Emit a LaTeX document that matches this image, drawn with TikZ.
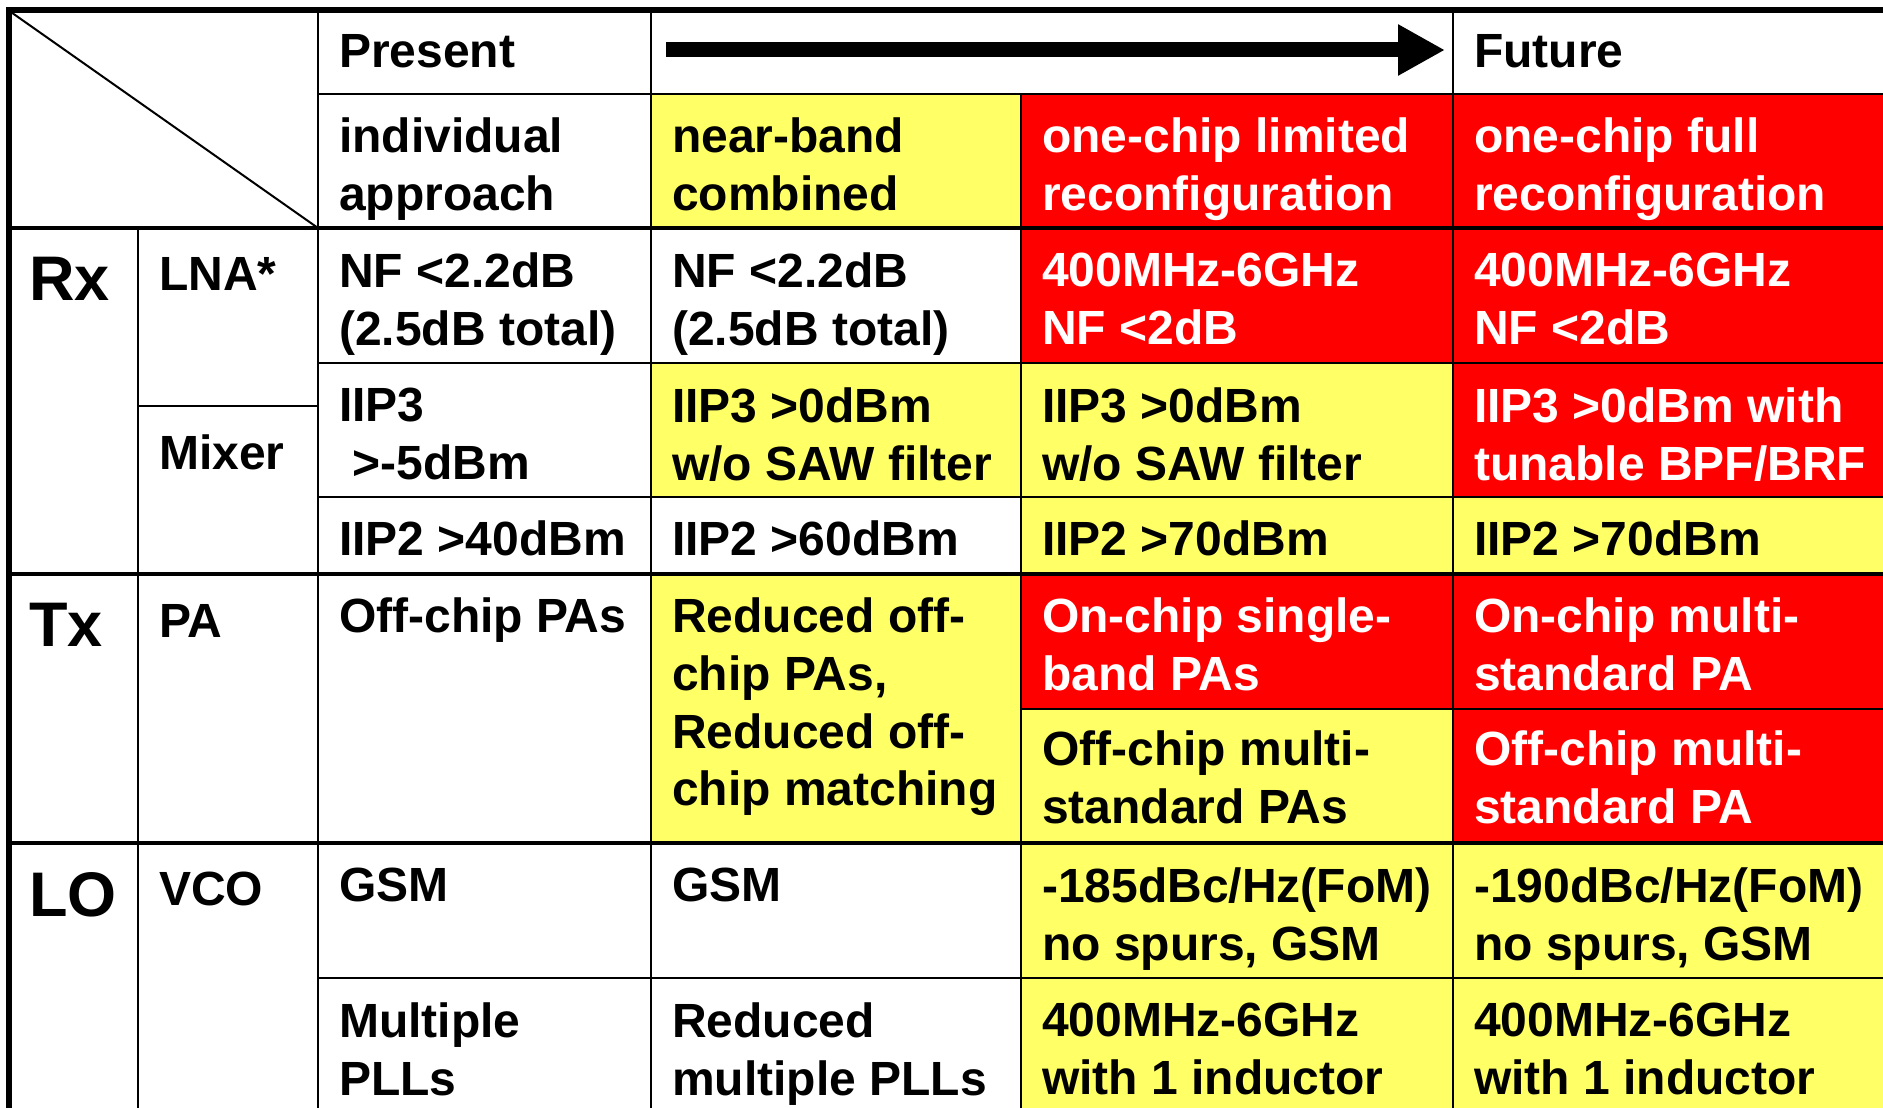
\documentclass[tikz,border=0pt]{standalone}
\usepackage{fontspec}
\setmainfont{Liberation Sans}
\usetikzlibrary{arrows.meta}
\definecolor{lightyellow}{RGB}{255,255,102}
\definecolor{brightred}{RGB}{255,0,0}

\begin{document}
\begin{tikzpicture}[x=1pt, y=-1pt,
  cell/.style={anchor=north west, inner sep=0pt, align=left,
    font=\bfseries\fontsize{48}{57.6}\selectfont},
  cellw/.style={cell, text=white},
  grouplabel/.style={cell, font=\bfseries\fontsize{63}{70}\selectfont},
  gridline/.style={line width=2.5pt},
  heavy/.style={line width=4pt}]
  \useasboundingbox (0,0) rectangle (1883,1108);
  \clip (0,0) rectangle (1883,1108);
  % coloured cells
  \fill[lightyellow] (651,94) rectangle (1021,228);
  \fill[brightred] (1021,94) rectangle (1890,363);
  \fill[lightyellow] (651,363) rectangle (1453,497);
  \fill[brightred] (1453,363) rectangle (1890,497);
  \fill[lightyellow] (1021,497) rectangle (1890,574);
  \fill[lightyellow] (651,574) rectangle (1021,843);
  \fill[brightred] (1021,574) rectangle (1890,709);
  \fill[lightyellow] (1021,709) rectangle (1453,843);
  \fill[brightred] (1453,709) rectangle (1890,843);
  \fill[lightyellow] (1021,843) rectangle (1890,1115);
  % grid
  \foreach \y in {94,363,497,978}
    \draw[gridline] (318,\y) -- (1890,\y);
  \draw[gridline] (138,406) -- (318,406);
  \draw[gridline] (1021,709) -- (1890,709);
  \foreach \y in {228,574,843}
    \draw[heavy] (8,\y) -- (1890,\y);
  \foreach \x in {318,651,1453}
    \draw[gridline] (\x,10) -- (\x,1115);
  \draw[gridline] (138,228) -- (138,1115);
  \draw[gridline] (1021,94) -- (1021,1115);
  \draw[line width=2pt] (8,10) -- (318,228);
  \draw[line width=6pt] (9,1115) -- (9,10) -- (1890,10);
  % header
  \node[cell] (present) at (339,34) {Present};
  \node[cell] (future) at (1474,34) {Future};
  \coordinate (arrowtail) at (666,50);
  \coordinate (arrowtip) at (1445,50);
  \draw[line width=15pt, -{Triangle[length=47pt,width=48pt]}] (arrowtail) -- (arrowtip);
  \node[cell] (individual) at (339,118) {individual\\approach};
  \node[cell] (nearband) at (672,118) {near-band\\combined};
  \node[cellw] (limited) at (1042,118) {one-chip limited\\reconfiguration};
  \node[cellw] (full) at (1474,118) {one-chip full\\reconfiguration};
  % Rx
  \node[grouplabel] (rx) at (29,257) {Rx};
  \node[cell] (lna) at (159,257) {LNA*};
  \node[cell] (mixer) at (159,435) {Mixer};
  \node[cell] (nfpresent) at (339,253) {NF <2.2dB\\(2.5dB total)};
  \node[cell] (nfnear) at (672,253) {NF <2.2dB\\(2.5dB total)};
  \node[cellw] (nflimited) at (1042,253) {400MHz-6GHz\\NF <2dB};
  \node[cellw] (nffull) at (1474,253) {400MHz-6GHz\\NF <2dB};
  \node[cell] (iipthreepresent) at (339,388) {IIP3\\\hspace{0.28em}>-5dBm};
  \node[cell] (iipthreenear) at (672,388) {IIP3 >0dBm\\w/o SAW filter};
  \node[cell] (iipthreelimited) at (1042,388) {IIP3 >0dBm\\w/o SAW filter};
  \node[cellw] (iipthreefull) at (1474,388) {IIP3 >0dBm with\\tunable BPF/BRF};
  \node[cell] (iiptwopresent) at (339,521) {IIP2 >40dBm};
  \node[cell] (iiptwonear) at (672,521) {IIP2 >60dBm};
  \node[cell] (iiptwolimited) at (1042,521) {IIP2 >70dBm};
  \node[cell] (iiptwofull) at (1474,521) {IIP2 >70dBm};
  % Tx
  \node[grouplabel] (tx) at (29,603) {Tx};
  \node[cell] (pa) at (159,604) {PA};
  \node[cell] (papresent) at (339,598) {Off-chip PAs};
  \node[cell] (panear) at (672,598) {Reduced off-\\chip PAs,\\Reduced off-\\chip matching};
  \node[cellw] (onchiplimited) at (1042,598) {On-chip single-\\band PAs};
  \node[cellw] (onchipfull) at (1474,598) {On-chip multi-\\standard PA};
  \node[cell] (offchiplimited) at (1042,731) {Off-chip multi-\\standard PAs};
  \node[cellw] (offchipfull) at (1474,731) {Off-chip multi-\\standard PA};
  % LO
  \node[grouplabel] (lo) at (29,872) {LO};
  \node[cell] (vco) at (159,872) {VCO};
  \node[cell] (vcopresent) at (339,868) {GSM};
  \node[cell] (vconear) at (672,868) {GSM};
  \node[cell] (vcolimited) at (1042,868) {-185dBc/Hz(FoM)\\no spurs, GSM};
  \node[cell] (vcofull) at (1474,868) {-190dBc/Hz(FoM)\\no spurs, GSM};
  \node[cell] (pllpresent) at (339,1003) {Multiple\\PLLs};
  \node[cell] (pllnear) at (672,1003) {Reduced\\multiple PLLs};
  \node[cell] (plllimited) at (1042,1003) {400MHz-6GHz\\with 1 inductor};
  \node[cell] (pllfull) at (1474,1003) {400MHz-6GHz\\with 1 inductor};
\end{tikzpicture}
\end{document}
